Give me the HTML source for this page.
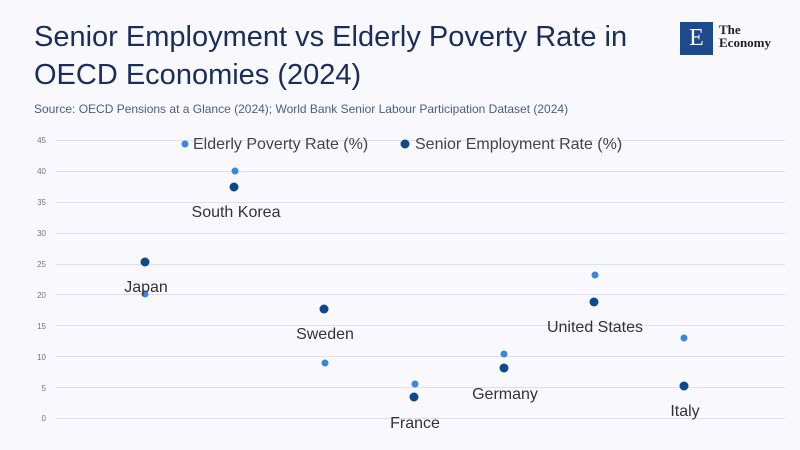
<!DOCTYPE html>
<html><head><meta charset="utf-8"><style>
body{margin:0;width:800px;height:450px;background:#f8f8fd;font-family:"Liberation Sans","DejaVu Sans",sans-serif;overflow:hidden;position:relative}
.t{position:absolute;left:34px;top:18px;font-size:29px;color:#1b2d5a;line-height:38px}
.s{position:absolute;left:34px;top:102px;font-size:12px;color:#4a5d8a}
</style></head><body>
<div class="t">Senior Employment vs Elderly Poverty Rate in<br>OECD Economies (2024)</div>
<div class="s">Source: OECD Pensions at a Glance (2024); World Bank Senior Labour Participation Dataset (2024)</div>
<div style="position:absolute;left:680px;top:22px;width:33px;height:33px;background:#1c4a8c;color:#fff;font-family:'Liberation Serif',serif;font-size:24px;text-align:center;line-height:33px">E</div>
<div style="position:absolute;left:719px;top:23px;font-family:'Liberation Serif',serif;font-size:13px;line-height:13px;color:#222;font-weight:bold">The<br>Economy</div>
<svg width="800" height="450" style="position:absolute;left:0;top:0" font-family="Liberation Sans, sans-serif">
<g stroke="#dfe1ea" stroke-width="1">
<line x1="56" x2="785" y1="140.5" y2="140.5"/><line x1="56" x2="785" y1="171.5" y2="171.5"/><line x1="56" x2="785" y1="202.5" y2="202.5"/><line x1="56" x2="785" y1="233.5" y2="233.5"/><line x1="56" x2="785" y1="264.5" y2="264.5"/><line x1="56" x2="785" y1="294.5" y2="294.5"/><line x1="56" x2="785" y1="325.5" y2="325.5"/><line x1="56" x2="785" y1="356.5" y2="356.5"/><line x1="56" x2="785" y1="387.5" y2="387.5"/><line x1="56" x2="785" y1="418.5" y2="418.5"/>
</g>
<g font-size="8" fill="#777" text-anchor="end">
<text x="46" y="143">45</text><text x="46" y="174">40</text><text x="46" y="205">35</text><text x="46" y="236">30</text><text x="46" y="267">25</text><text x="46" y="298">20</text><text x="46" y="329">15</text><text x="46" y="360">10</text><text x="46" y="391">5</text><text x="46" y="421">0</text>
</g>
<g fill="#3a86d8">
<circle cx="185" cy="144" r="3.5"/><circle cx="235" cy="171" r="3.5"/><circle cx="145" cy="294" r="3.5"/><circle cx="325" cy="363" r="3.5"/><circle cx="415" cy="384" r="3.5"/><circle cx="504" cy="354" r="3.5"/><circle cx="595" cy="275" r="3.5"/><circle cx="684" cy="338" r="3.5"/>
</g>
<g fill="#0d4a8c">
<circle cx="405" cy="144" r="4.5"/><circle cx="234" cy="187" r="4.5"/><circle cx="145" cy="262" r="4.5"/><circle cx="324" cy="309" r="4.5"/><circle cx="414" cy="397" r="4.5"/><circle cx="504" cy="368" r="4.5"/><circle cx="594" cy="302" r="4.5"/><circle cx="684" cy="386" r="4.5"/>
</g>
<g font-size="16" fill="#444">
<text x="193" y="149">Elderly Poverty Rate (%)</text>
<text x="415" y="149">Senior Employment Rate (%)</text>
</g>
<g font-size="16" fill="#333" text-anchor="middle">
<text x="236" y="217">South Korea</text><text x="146" y="292">Japan</text><text x="325" y="339">Sweden</text><text x="415" y="428">France</text><text x="505" y="399">Germany</text><text x="595" y="332">United States</text><text x="685" y="416">Italy</text>
</g>
</svg>
</body></html>
